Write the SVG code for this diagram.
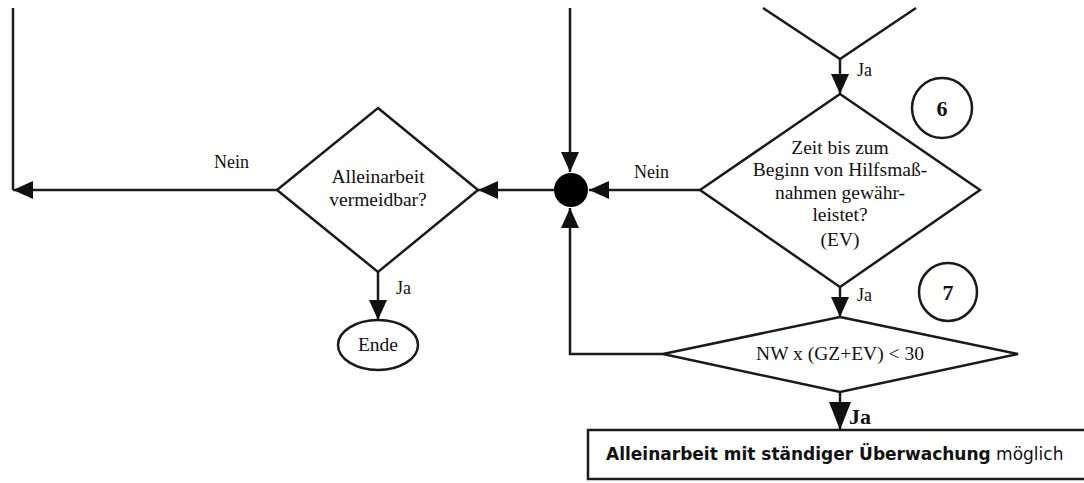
<svg xmlns="http://www.w3.org/2000/svg" width="1084" height="483" viewBox="0 0 1084 483">
<style>
.ln{fill:none;stroke:#1a1a1a;stroke-width:2.5}
.sh{fill:#fff;stroke:#1a1a1a;stroke-width:2.5}
.t{font-family:"Liberation Serif","Times New Roman",serif;font-size:19.5px;fill:#111;text-anchor:middle}
.lb{font-family:"Liberation Serif","Times New Roman",serif;font-size:18px;fill:#111}
.num{font-family:"Liberation Serif","Times New Roman",serif;font-size:22px;font-weight:bold;fill:#111;text-anchor:middle}
.box{font-family:"DejaVu Sans","Liberation Sans",sans-serif;font-size:17px;fill:#111}
</style>
<defs>
<marker id="ah" markerUnits="userSpaceOnUse" markerWidth="20" markerHeight="18" refX="20" refY="9" orient="auto"><path d="M0,0 L20,9 L0,18 z" fill="#111"/></marker>
<marker id="ahb" markerUnits="userSpaceOnUse" markerWidth="28" markerHeight="22" refX="28" refY="11" orient="auto"><path d="M0,0 L28,11 L0,22 z" fill="#111"/></marker>
</defs>
<rect width="1084" height="483" fill="#fff"/>
<g id="connectors">
<path class="ln" d="M840,59 V94" marker-end="url(#ah)"/>
<path class="ln" d="M700,190 H589" marker-end="url(#ah)"/>
<path class="ln" d="M554,190 H478" marker-end="url(#ah)"/>
<path class="ln" d="M570,8 V172" marker-end="url(#ah)"/>
<path class="ln" d="M663,354 H570 V208" marker-end="url(#ah)"/>
<path class="ln" d="M13,8 V190"/>
<path class="ln" d="M277,190 H13" marker-end="url(#ah)"/>
<path class="ln" d="M378,272 V320" marker-end="url(#ah)"/>
<path class="ln" d="M840,287 V317" marker-end="url(#ah)"/>
<path class="ln" d="M840,392 V430" marker-end="url(#ahb)"/>
<text class="lb" x="214" y="168">Nein</text>
<text class="lb" x="634" y="178">Nein</text>
<text class="lb" x="396" y="294">Ja</text>
<text class="lb" x="857" y="76">Ja</text>
<text class="lb" x="857" y="301">Ja</text>
<text class="lb" x="849" y="424" style="font-size:22px;font-weight:bold">Ja</text>
</g>
<g id="node-prev">
<path class="ln" d="M763,8 L840,59 L916,8"/>
</g>
<g id="node-zeit">
<polygon class="sh" points="840,94 980,190 840,287 700,190"/>
<text class="t" x="840" y="154">Zeit bis zum</text>
<text class="t" x="840" y="176">Beginn von Hilfsmaß-</text>
<text class="t" x="840" y="199">nahmen gewähr-</text>
<text class="t" x="840" y="221">leistet?</text>
<text class="t" x="840" y="246">(EV)</text>
</g>
<g id="node-6">
<circle class="sh" cx="942" cy="108" r="30"/>
<text class="num" x="942" y="116">6</text>
</g>
<g id="node-7">
<circle class="sh" cx="948" cy="292" r="29"/>
<text class="num" x="948" y="300">7</text>
</g>
<g id="node-junction">
<circle cx="571" cy="190" r="17" fill="#000"/>
</g>
<g id="node-allein">
<polygon class="sh" points="378,108 478,190 378,272 277,190"/>
<text class="t" x="378" y="183">Alleinarbeit</text>
<text class="t" x="378" y="206">vermeidbar?</text>
</g>
<g id="node-ende">
<ellipse class="sh" cx="378" cy="345" rx="40" ry="25"/>
<text class="t" x="378" y="351">Ende</text>
</g>
<g id="node-nw">
<polygon class="sh" points="840,317 1018,354 840,392 663,354"/>
<text class="t" x="840" y="360">NW x (GZ+EV) &lt; 30</text>
</g>
<g id="node-result">
<rect class="sh" x="588" y="430" width="510" height="49"/>
<text class="box" x="606" y="460"><tspan font-weight="bold">Alleinarbeit mit ständiger Überwachung</tspan> möglich</text>
</g>
</svg>
